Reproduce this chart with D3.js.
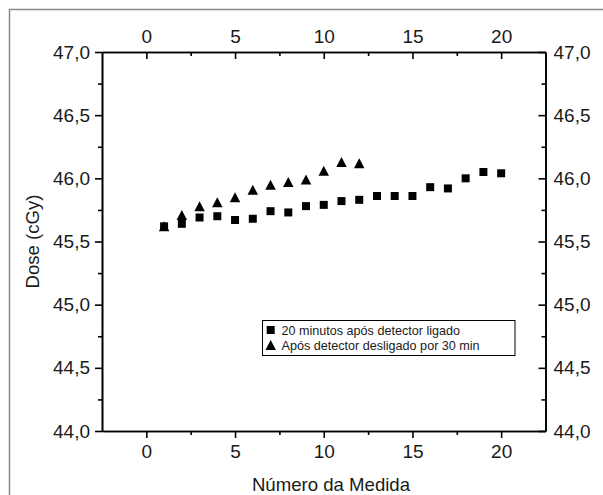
<!DOCTYPE html>
<html>
<head>
<meta charset="utf-8">
<script src="https://cdn.jsdelivr.net/npm/d3@7"></script>
<style>
  html, body { margin: 0; padding: 0; background: #fff; }
  svg { display: block; font-family: "Liberation Sans", Arial, sans-serif; }
  .axis path, .axis line { stroke: #000; stroke-width: 1.6px; }
  .axis text { font-size: 19px; fill: #1a1a1a; }
</style>
</head>
<body>
<svg id="chart" width="603" height="495"></svg>
<script>
// Measurement index (x) and dose readings (y, cGy)
const medidasLigado = [1, 2, 3, 4, 5, 6, 7, 8, 9, 10, 11, 12, 13, 14, 15, 16, 17, 18, 19, 20];
const doseLigado = [45.62, 45.64, 45.69, 45.70, 45.67, 45.68, 45.74, 45.73, 45.78, 45.79,
                    45.82, 45.83, 45.86, 45.86, 45.86, 45.93, 45.92, 46.00, 46.05, 46.04];
const medidasDesligado = [1, 2, 3, 4, 5, 6, 7, 8, 9, 10, 11, 12];
const doseDesligado = [45.62, 45.71, 45.78, 45.81, 45.85, 45.91, 45.95, 45.97, 45.99, 46.06, 46.13, 46.12];

const xTicks = [0, 5, 10, 15, 20];
const xMinorTicks = [2.5, 7.5, 12.5, 17.5];
const yTicks = [44.0, 44.5, 45.0, 45.5, 46.0, 46.5, 47.0];
const yMinorTicks = [44.25, 44.75, 45.25, 45.75, 46.25, 46.75];
const legendLabels = ["20 minutos após detector ligado", "Após detector desligado por 30 min"];
const xTitle = "Número da Medida";
const yTitle = "Dose (cGy)";

const svg = d3.select("#chart");
const plotLeft = 102, plotRight = 545.5, plotTop = 52, plotBottom = 431;

const x = d3.scaleLinear().domain([-2.5, 22.5]).range([plotLeft, plotRight]);
const y = d3.scaleLinear().domain([44, 47]).range([plotBottom, plotTop]);
const fmtY = v => d3.format(".1f")(v).replace(".", ",");

// outer frame (runs past the right and bottom edges)
svg.append("rect")
  .attr("x", 9.5).attr("y", 9.5).attr("width", 620).attr("height", 520)
  .attr("fill", "none").attr("stroke", "#8a8a8a").attr("stroke-width", 1.5);

// bottom axis (ticks pointing out)
svg.append("g").attr("class", "axis").attr("transform", `translate(0,${plotBottom})`)
  .call(d3.axisBottom(x).tickValues(xTicks).tickSizeInner(7).tickSizeOuter(0).tickPadding(7).tickFormat(d3.format("d")));
svg.append("g").attr("class", "axis").attr("transform", `translate(0,${plotBottom})`)
  .call(d3.axisBottom(x).tickValues(xMinorTicks).tickSizeInner(4).tickSizeOuter(0).tickFormat(""));

// top axis (ticks pointing in)
svg.append("g").attr("class", "axis").attr("transform", `translate(0,${plotTop})`)
  .call(d3.axisTop(x).tickValues(xTicks).tickSizeInner(-7).tickSizeOuter(0).tickPadding(9).tickFormat(d3.format("d")));
svg.append("g").attr("class", "axis").attr("transform", `translate(0,${plotTop})`)
  .call(d3.axisTop(x).tickValues(xMinorTicks).tickSizeInner(-4).tickSizeOuter(0).tickFormat(""));

// left axis (ticks pointing out)
svg.append("g").attr("class", "axis").attr("transform", `translate(${plotLeft},0)`)
  .call(d3.axisLeft(y).tickValues(yTicks).tickSizeInner(7).tickSizeOuter(0).tickPadding(5).tickFormat(fmtY));
svg.append("g").attr("class", "axis").attr("transform", `translate(${plotLeft},0)`)
  .call(d3.axisLeft(y).tickValues(yMinorTicks).tickSizeInner(4).tickSizeOuter(0).tickFormat(""));

// right axis (ticks pointing in)
svg.append("g").attr("class", "axis").attr("transform", `translate(${plotRight},0)`)
  .call(d3.axisRight(y).tickValues(yTicks).tickSizeInner(-7).tickSizeOuter(0).tickPadding(8).tickFormat(fmtY));
svg.append("g").attr("class", "axis").attr("transform", `translate(${plotRight},0)`)
  .call(d3.axisRight(y).tickValues(yMinorTicks).tickSizeInner(-4).tickSizeOuter(0).tickFormat(""));

// axis titles
svg.append("text").attr("x", 331).attr("y", 491).attr("text-anchor", "middle")
  .attr("font-size", 18.6).attr("fill", "#1a1a1a").text(xTitle);
svg.append("text").attr("transform", `translate(39,${(plotTop + plotBottom) / 2}) rotate(-90)`)
  .attr("text-anchor", "middle").attr("font-size", 18.6).attr("fill", "#1a1a1a").text(yTitle);

// marker shapes centred on their bounding box
const sq = 8, triW = 10.5, triH = 10;
const squarePath = `M${-sq/2},${-sq/2}h${sq}v${sq}h${-sq}Z`;
const trianglePath = `M0,${-triH/2}L${triW/2},${triH/2}L${-triW/2},${triH/2}Z`;

const ligado = medidasLigado.map((m, i) => ({ m, d: doseLigado[i] }));
const desligado = medidasDesligado.map((m, i) => ({ m, d: doseDesligado[i] }));

svg.append("g").selectAll("path").data(ligado).join("path")
  .attr("d", squarePath).attr("fill", "#000")
  .attr("transform", p => `translate(${x(p.m)},${y(p.d)})`);
svg.append("g").selectAll("path").data(desligado).join("path")
  .attr("d", trianglePath).attr("fill", "#000")
  .attr("transform", p => `translate(${x(p.m)},${y(p.d)})`);

// legend
const lg = svg.append("g");
lg.append("rect").attr("x", 262.5).attr("y", 320.5).attr("width", 252.5).attr("height", 35)
  .attr("fill", "#fff").attr("stroke", "#000").attr("stroke-width", 1);
lg.append("path").attr("d", squarePath).attr("transform", "translate(270.7,330)").attr("fill", "#000");
lg.append("path").attr("d", trianglePath).attr("transform", "translate(270.7,345)").attr("fill", "#000");
lg.selectAll("text").data(legendLabels).join("text")
  .attr("x", 281.5).attr("y", (d, i) => 334.5 + i * 15)
  .attr("font-size", 12.6).attr("fill", "#1a1a1a").text(d => d);
</script>
</body>
</html>
